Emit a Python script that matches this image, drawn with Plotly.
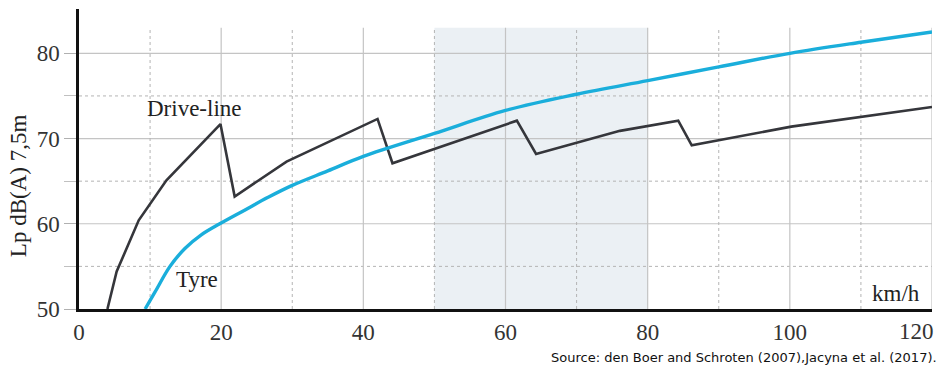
import plotly.graph_objects as go

# Drive-line noise (km/h vs Lp dB(A))
drive_speed = [4.0, 5.3, 8.4, 12.3, 19.9, 21.9, 29.2, 42.0, 44.1, 61.6, 64.3, 76.1, 84.3, 86.2, 100.2, 120]
drive_lp = [50.0, 54.4, 60.4, 65.1, 71.7, 63.2, 67.3, 72.3, 67.1, 72.1, 68.2, 70.9, 72.1, 69.2, 71.4, 73.7]

# Tyre noise
tyre_speed = [9.3, 10.7, 12.8, 14.9, 17.2, 19.8, 23.3, 26.6, 30, 35, 40, 50, 60, 70, 80, 90, 100, 110, 120]
tyre_lp = [50.0, 52.0, 55.0, 57.1, 58.7, 60.0, 61.6, 63.1, 64.5, 66.2, 67.9, 70.6, 73.3, 75.2, 76.8, 78.4, 80.0, 81.3, 82.5]

x_ticks = [0, 20, 40, 60, 80, 100]
x_last_tick = 120
y_ticks = [50, 60, 70, 80]
x_minor_grid = [10, 30, 50, 70, 90, 110]
x_major_grid = [20, 40, 60, 80, 100, 120]
y_major_grid = [60, 70, 80]
y_minor_grid = [55, 65, 75]
shade_range = [50, 80]
grid_top = 83

SERIF = "Liberation Serif, Times New Roman, serif"

fig = go.Figure()

fig.add_trace(go.Scatter(x=drive_speed, y=drive_lp, mode="lines",
                         line=dict(color="#35363b", width=2.6), name="Drive-line",
                         showlegend=False, hoverinfo="skip"))
fig.add_trace(go.Scatter(x=tyre_speed, y=tyre_lp, mode="lines",
                         line=dict(color="#1aaedb", width=3.4, shape="spline", smoothing=1.0),
                         name="Tyre", showlegend=False, hoverinfo="skip"))

shapes = []
shapes.append(dict(type="rect", xref="x", yref="y", x0=shade_range[0], x1=shade_range[1],
                   y0=50, y1=grid_top, fillcolor="#ebf0f4", line=dict(width=0), layer="below"))
for v in y_major_grid:
    shapes.append(dict(type="line", xref="x", yref="y", x0=0, x1=120, y0=v, y1=v,
                       line=dict(color="#c4c4c4", width=1.2), layer="below"))
for v in y_minor_grid:
    shapes.append(dict(type="line", xref="x", yref="y", x0=0, x1=120, y0=v, y1=v,
                       line=dict(color="#b4b4b4", width=1, dash="dot"), layer="below"))
for v in x_major_grid:
    shapes.append(dict(type="line", xref="x", yref="y", x0=v, x1=v, y0=50, y1=grid_top,
                       line=dict(color="#c4c4c4", width=1.2), layer="below"))
for v in x_minor_grid:
    shapes.append(dict(type="line", xref="x", yref="y", x0=v, x1=v, y0=50, y1=grid_top,
                       line=dict(color="#b4b4b4", width=1, dash="dot"), layer="below"))

annotations = [
    dict(x=16.2, y=73.5, xref="x", yref="y", text="Drive-line", showarrow=False,
         font=dict(family=SERIF, size=23, color="#222")),
    dict(x=16.6, y=53.5, xref="x", yref="y", text="Tyre", showarrow=False,
         font=dict(family=SERIF, size=23, color="#222")),
    dict(x=115, y=51.8, xref="x", yref="y", text="km/h", showarrow=False,
         font=dict(family=SERIF, size=23, color="#222")),
    # last x tick label, right-aligned to the axis end as in the original
    dict(x=x_last_tick, y=0, xref="x", yref="paper", xanchor="right", yanchor="top",
         xshift=4, yshift=-8, text=str(x_last_tick), showarrow=False,
         font=dict(family=SERIF, size=23, color="#333")),
    dict(x=-0.0696, y=0.41, xref="paper", yref="paper", text="Lp dB(A) 7,5m", textangle=-90,
         xshift=-16, showarrow=False, font=dict(family=SERIF, size=23, color="#222")),
    dict(x=1.004, y=-0.163, xref="paper", yref="paper", xanchor="right", yanchor="middle",
         xshift=4, text="Source: den Boer and Schroten (2007),Jacyna et al. (2017).",
         showarrow=False, font=dict(family="DejaVu Sans, sans-serif", size=13, color="#111")),
]

fig.update_layout(
    width=949, height=370,
    margin=dict(l=79, r=17, t=9, b=61),
    paper_bgcolor="white", plot_bgcolor="white",
    shapes=shapes, annotations=annotations,
    xaxis=dict(range=[0, 120], tickvals=x_ticks, showgrid=False, zeroline=False,
               showline=True, linecolor="#111", linewidth=3, ticks="",
               tickfont=dict(family=SERIF, size=23, color="#333")),
    yaxis=dict(range=[50, 85.2], tickvals=y_ticks, showgrid=False, zeroline=False,
               showline=True, linecolor="#111", linewidth=2.5, ticks="outside",
               ticklen=12, tickcolor="#b0b0b0", tickwidth=1,
               minor=dict(tickvals=y_minor_grid, ticks="outside", ticklen=12,
                          tickcolor="#c0c0c0", tickwidth=1),
               tickfont=dict(family=SERIF, size=23, color="#333")),
)

fig.write_html("out.html", config={"displayModeBar": False},
               post_script="document.body.style.margin='0';")
